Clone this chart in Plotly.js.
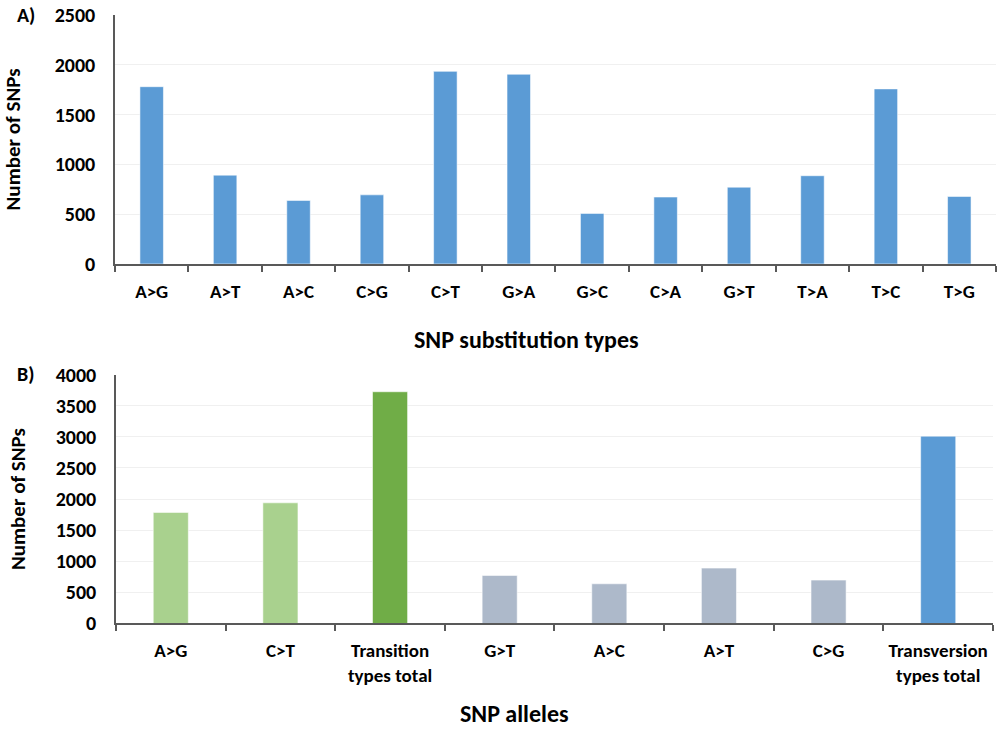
<!DOCTYPE html>
<html>
<head>
<meta charset="utf-8">
<script src="https://cdn.plot.ly/plotly-3.0.1.min.js"></script>
<style>html,body{margin:0;padding:0;background:#fff}#chart{width:998px;height:731px}</style>
</head>
<body>
<div id="chart"></div>
<script>
const catsA = ['A>G','A>T','A>C','C>G','C>T','G>A','G>C','C>A','G>T','T>A','T>C','T>G'];
const valsA = [1780, 892, 638, 694, 1934, 1905, 508, 672, 771, 886, 1758, 678];

const catsB = ['A>G','C>T','Transition<br>types total','G>T','A>C','A>T','C>G','Transversion<br>types total'];
const valsB = [1786, 1940, 3726, 772, 638, 890, 697, 3012];
const colorsB = ['#A9D18E','#A9D18E','#70AD47','#ADB9CA','#ADB9CA','#ADB9CA','#ADB9CA','#5B9BD5'];
const colorA = '#5B9BD5';

const titleA = 'SNP substitution types';
const titleB = 'SNP alleles';

const FONT = 'Carlito, Lato, "Open Sans", sans-serif';
const axisColor = '#595959';

const traces = [
  {type:'bar', x:catsA, y:valsA, xaxis:'x', yaxis:'y',
   marker:{color:colorA, line:{color:'rgba(255,255,255,0.55)', width:1}}, hoverinfo:'x+y'},
  {type:'bar', x:catsB, y:valsB, xaxis:'x2', yaxis:'y2',
   marker:{color:colorsB, line:{color:'rgba(255,255,255,0.55)', width:1}}, hoverinfo:'x+y'}
];

function xAx(domain, anchor){
  return {domain:domain, anchor:anchor, type:'category', showline:true, linecolor:axisColor, linewidth:1.5,
    ticks:'outside', tickson:'boundaries', ticklen:6, tickcolor:axisColor, tickwidth:1.5,
    showgrid:false, zeroline:false, automargin:false, ticklabelstandoff:9, tickangle:0,
    tickfont:{family:FONT, size:19, color:'#000', weight:'bold'}};
}
function yAx(domain, anchor, range, dtick, standoff){
  return {domain:domain, anchor:anchor, range:range, dtick:dtick, showline:true, linecolor:axisColor, linewidth:1.5,
    ticks:'', showgrid:true, gridcolor:'#F0F0F0', gridwidth:1, zeroline:false, automargin:false,
    ticklabelstandoff:14,
    tickfont:{family:FONT, size:20, color:'#000', weight:'bold'},
    title:{text:'Number of SNPs', standoff:standoff, font:{family:FONT, size:21, color:'#000', weight:'bold'}}};
}

const titleFont = {family:FONT, size:24, color:'#000', weight:'bold'};
const labelFont = {family:FONT, size:20, color:'#000', weight:'bold'};

const layout = {
  width:998, height:731, margin:{l:0, r:0, t:0, b:0},
  paper_bgcolor:'#fff', plot_bgcolor:'#fff', showlegend:false,
  bargap:0.68,
  xaxis: xAx([0.1152, 0.998], 'y'),
  yaxis: yAx([0.6389, 0.9795], 'x', [0, 2500], 500, 28),
  xaxis2: xAx([0.1162, 0.995], 'y2'),
  yaxis2: yAx([0.1471, 0.4874], 'x2', [0, 4000], 500, 24),
  annotations:[
    {text:titleA, xref:'paper', yref:'paper', x:526/998, y:1-339/731, xanchor:'center', yanchor:'middle', showarrow:false, font:titleFont},
    {text:titleB, xref:'paper', yref:'paper', x:514/998, y:2/731, xanchor:'center', yanchor:'bottom', borderpad:0, showarrow:false, font:titleFont},
    {text:'A)', xref:'paper', yref:'paper', x:0.015, y:1-15/731, xanchor:'left', yanchor:'middle', showarrow:false, font:labelFont},
    {text:'B)', xref:'paper', yref:'paper', x:0.015, y:1-374/731, xanchor:'left', yanchor:'middle', showarrow:false, font:labelFont}
  ]
};

Plotly.newPlot('chart', traces, layout, {displayModeBar:false, responsive:false});
</script>
</body>
</html>
